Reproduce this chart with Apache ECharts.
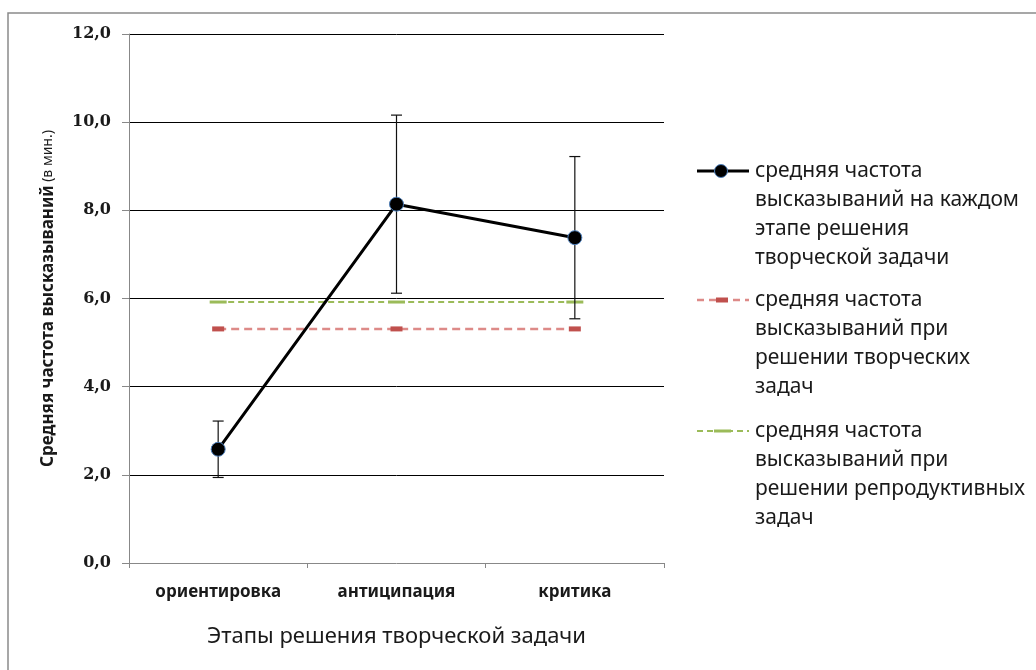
<!DOCTYPE html>
<html>
<head>
<meta charset="utf-8">
<script src="https://cdn.jsdelivr.net/npm/echarts@6/dist/echarts.min.js"></script>
<style>
  html, body { margin: 0; padding: 0; background: #fff; }
  #chart { width: 1036px; height: 670px; }
</style>
</head>
<body>
<div id="chart"></div>
<script>
// Этапы решения творческой задачи
const stages = ['ориентировка', 'антиципация', 'критика'];
// средняя частота высказываний на каждом этапе (в мин.)
const stageMeans = [2.58, 8.14, 7.38];
// разброс (± отклонение) для каждого этапа
const stageDev = [0.64, 2.02, 1.84];
// средняя частота при решении творческих задач
const creativeMean = [5.31, 5.31, 5.31];
// средняя частота при решении репродуктивных задач
const reproductiveMean = [5.92, 5.92, 5.92];
// деления оси Y
const yTicks = [0, 2, 4, 6, 8, 10, 12];

const legendNames = [
  'средняя частота\nвысказываний на каждом\nэтапе решения\nтворческой задачи',
  'средняя частота\nвысказываний при\nрешении творческих\nзадач',
  'средняя частота\nвысказываний при\nрешении репродуктивных\nзадач'
];

const errData = stages.map((s, i) => [i, stageMeans[i] - stageDev[i], stageMeans[i] + stageDev[i]]);

const chart = echarts.init(document.getElementById('chart'), null, { renderer: 'canvas' });

const sansFont = '"Noto Sans", "Open Sans", sans-serif';
const legendX = 697, textX = 755, lineH = 29;
const legendRows = [171, 300, 431];

function legendGraphics() {
  const g = [];
  // рамка области диаграммы
  g.push({
    type: 'rect', x: 8, y: 13, silent: true,
    shape: { x: 0, y: 0, width: 1040, height: 680 },
    style: { fill: 'none', stroke: '#8a8a8a', lineWidth: 1.5 }
  });
  // 1: сплошная линия с маркером
  g.push({ type: 'line', shape: { x1: legendX, y1: legendRows[0], x2: legendX + 52, y2: legendRows[0] },
           style: { stroke: '#000', lineWidth: 3 } });
  g.push({ type: 'circle', shape: { cx: legendX + 24, cy: legendRows[0], r: 6.5 },
           style: { fill: '#000', stroke: '#4f81bd', lineWidth: 1 } });
  // 2: красный пунктир
  g.push({ type: 'line', shape: { x1: legendX, y1: legendRows[1], x2: legendX + 52, y2: legendRows[1] },
           style: { stroke: '#dd8a88', lineWidth: 2.5, lineDash: [7, 5] } });
  g.push({ type: 'rect', shape: { x: legendX + 19, y: legendRows[1] - 2.5, width: 12, height: 5 },
           style: { fill: '#c0504d' } });
  // 3: зелёный пунктир
  g.push({ type: 'line', shape: { x1: legendX, y1: legendRows[2], x2: legendX + 52, y2: legendRows[2] },
           style: { stroke: '#9bbb59', lineWidth: 2, lineDash: [6, 4] } });
  g.push({ type: 'rect', shape: { x: legendX + 17, y: legendRows[2] - 1.5, width: 17, height: 3 },
           style: { fill: '#9bbb59' } });
  legendNames.forEach((t, i) => {
    g.push({
      type: 'text', x: textX, y: legendRows[i] - lineH / 2,
      style: { text: t, font: '21px ' + sansFont, fill: '#1a1a1a', lineHeight: lineH,
               verticalAlign: 'top', align: 'left' }
    });
  });
  return g;
}

chart.setOption({
  animation: false,
  backgroundColor: '#fff',
  grid: { left: 129, right: 372, top: 34, bottom: 107, outerBoundsMode: 'none' },
  xAxis: {
    type: 'category',
    data: stages,
    boundaryGap: true,
    name: 'Этапы решения творческой задачи',
    nameLocation: 'middle',
    nameGap: 63,
    nameTextStyle: { fontFamily: sansFont, fontSize: 22, color: '#1a1a1a' },
    axisLine: { lineStyle: { color: '#888', width: 1 } },
    axisTick: { show: true, length: 5, lineStyle: { color: '#888' } },
    axisLabel: { fontFamily: sansFont, fontSize: 17, fontWeight: 'bold', color: '#1a1a1a', margin: 21 },
    splitLine: { show: false }
  },
  yAxis: {
    type: 'value',
    min: yTicks[0],
    max: yTicks[yTicks.length - 1],
    interval: yTicks[1] - yTicks[0],
    name: '{b|Средняя частота высказываний} {n|(в мин.)}',
    nameLocation: 'middle',
    nameGap: 72,
    nameTextStyle: {
      rich: {
        b: { fontFamily: sansFont, fontSize: 17, fontWeight: 'bold', color: '#1a1a1a' },
        n: { fontFamily: sansFont, fontSize: 14, color: '#1a1a1a' }
      }
    },
    axisLine: { show: true, lineStyle: { color: '#888', width: 1 } },
    axisTick: { show: true, length: 7, lineStyle: { color: '#888' } },
    axisLabel: {
      fontFamily: '"DejaVu Serif", serif', fontSize: 16, fontWeight: 'bold', color: '#1a1a1a', margin: 18,
      formatter: v => v.toFixed(1).replace('.', ',')
    },
    splitLine: { show: true, showMinLine: false, lineStyle: { color: '#000', width: 1 } }
  },
  series: [
    {
      name: legendNames[2],
      type: 'line',
      data: reproductiveMean,
      z: 2,
      symbol: 'rect',
      symbolSize: [17, 3],
      itemStyle: { color: '#9bbb59' },
      lineStyle: { color: '#9bbb59', width: 2, type: [6, 4] }
    },
    {
      name: legendNames[1],
      type: 'line',
      data: creativeMean,
      z: 2,
      symbol: 'rect',
      symbolSize: [12, 5],
      itemStyle: { color: '#c0504d' },
      lineStyle: { color: '#dd8a88', width: 2.5, type: [8, 5] }
    },
    {
      name: 'error',
      type: 'custom',
      z: 3,
      data: errData,
      renderItem: function (params, api) {
        const x = api.value(0);
        const lo = api.coord([x, api.value(1)]);
        const hi = api.coord([x, api.value(2)]);
        const w = 5.5;
        const st = { stroke: '#111', lineWidth: 1.2 };
        return {
          type: 'group',
          children: [
            { type: 'line', shape: { x1: lo[0], y1: lo[1], x2: hi[0], y2: hi[1] }, style: st },
            { type: 'line', shape: { x1: hi[0] - w, y1: hi[1], x2: hi[0] + w, y2: hi[1] }, style: st },
            { type: 'line', shape: { x1: lo[0] - w, y1: lo[1], x2: lo[0] + w, y2: lo[1] }, style: st }
          ]
        };
      }
    },
    {
      name: legendNames[0],
      type: 'line',
      data: stageMeans,
      z: 4,
      symbol: 'circle',
      symbolSize: 14,
      itemStyle: { color: '#000', borderColor: '#4f81bd', borderWidth: 1 },
      lineStyle: { color: '#000', width: 3 }
    }
  ],
  graphic: legendGraphics()
});
</script>
</body>
</html>
